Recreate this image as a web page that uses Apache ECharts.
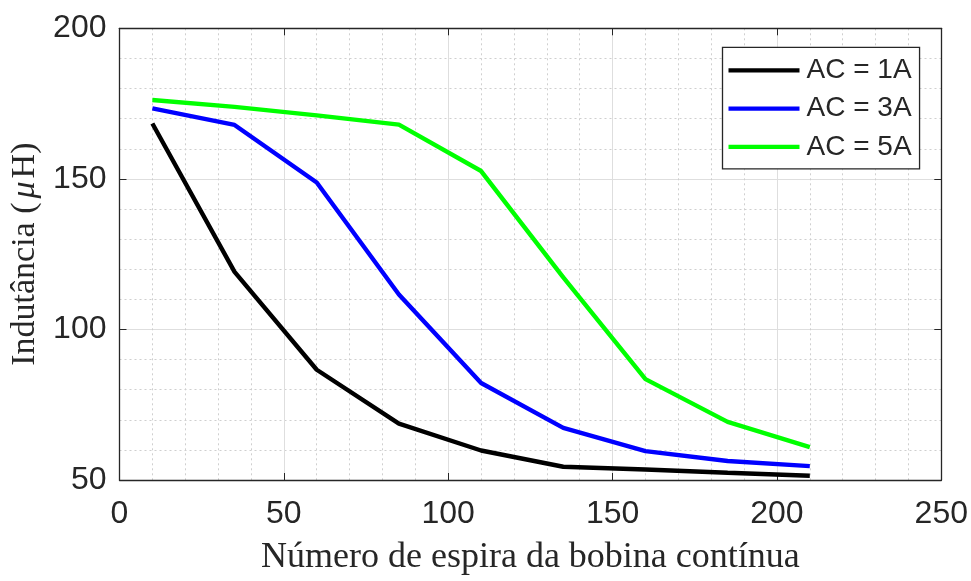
<!DOCTYPE html>
<html>
<head>
<meta charset="utf-8">
<script src="https://cdn.jsdelivr.net/npm/echarts@6/dist/echarts.min.js"></script>
<style>
  html, body { margin: 0; padding: 0; background: #ffffff; }
  #chart { width: 971px; height: 581px; }
</style>
</head>
<body>
<div id="chart"></div>
<script>
// Number of turns of the continuous coil
const turns = [10, 35, 60, 85, 110, 135, 160, 185, 210];

// Inductance (µH) for each AC current level
const ac1 = [168.4, 119.1, 86.6, 68.7, 59.8, 54.4, 53.5, 52.4, 51.4];
const ac3 = [173.4, 167.9, 148.8, 111.6, 82.2, 67.3, 59.6, 56.3, 54.6];
const ac5 = [176.2, 173.9, 171.1, 168.0, 152.6, 117.3, 83.5, 69.3, 60.9];

const seriesNames = ['AC = 1A', 'AC = 3A', 'AC = 5A'];
const seriesColors = ['#000000', '#0000ff', '#00ff00'];

const xTicks = [0, 50, 100, 150, 200, 250];
const yTicks = [50, 100, 150, 200];

const axisColor = '#262626';
const tickFont = { fontFamily: 'Liberation Sans', fontSize: 32, color: axisColor };

function pairs(xs, ys) { return xs.map((x, i) => [x, ys[i]]); }

const gridLine = { show: true, lineStyle: { color: '#dedede', width: 1, type: 'solid' } };
const minorGrid = { show: true, lineStyle: { color: '#cfcfcf', width: 1, type: [2, 3] } };

const chart = echarts.init(document.getElementById('chart'), null, { renderer: 'canvas' });

chart.setOption({
  backgroundColor: '#ffffff',
  animation: false,
  grid: { left: 119.5, right: 29.5, top: 28.3, bottom: 98.7, containLabel: false },
  xAxis: [
    {
      type: 'value', min: xTicks[0], max: xTicks[xTicks.length - 1], interval: 50,
      position: 'bottom',
      axisLine: { show: true, onZero: false, lineStyle: { color: axisColor, width: 1.3 } },
      axisTick: { show: true, inside: true, length: 7, lineStyle: { color: axisColor } },
      axisLabel: Object.assign({ margin: 18 }, tickFont),
      splitLine: gridLine,
      minorTick: { show: false, splitNumber: 5 },
      minorSplitLine: minorGrid,
      name: 'Número de espira da bobina contínua',
      nameLocation: 'middle',
      nameGap: 60,
      nameTextStyle: { fontFamily: 'Liberation Serif', fontSize: 36, color: axisColor }
    },
    {
      type: 'value', min: xTicks[0], max: xTicks[xTicks.length - 1], interval: 50,
      position: 'top',
      axisLine: { show: true, onZero: false, lineStyle: { color: axisColor, width: 1.3 } },
      axisTick: { show: true, inside: true, length: 7, lineStyle: { color: axisColor } },
      axisLabel: { show: false },
      splitLine: { show: false }
    }
  ],
  yAxis: [
    {
      type: 'value', min: yTicks[0], max: yTicks[yTicks.length - 1], interval: 50,
      position: 'left',
      axisLine: { show: true, onZero: false, lineStyle: { color: axisColor, width: 1.3 } },
      axisTick: { show: true, inside: true, length: 7, lineStyle: { color: axisColor } },
      axisLabel: Object.assign({ margin: 13 }, tickFont),
      splitLine: gridLine,
      minorTick: { show: false, splitNumber: 5 },
      minorSplitLine: minorGrid,
      name: 'Indutância ({i|μ}H)',
      nameLocation: 'middle',
      nameGap: 77,
      nameRotate: 90,
      nameTextStyle: {
        fontFamily: 'Liberation Serif', fontSize: 34, color: axisColor,
        rich: { i: { fontFamily: 'Liberation Serif', fontSize: 34, fontStyle: 'italic', color: axisColor, padding: [0, 3, 0, 4] } }
      }
    },
    {
      type: 'value', min: yTicks[0], max: yTicks[yTicks.length - 1], interval: 50,
      position: 'right',
      axisLine: { show: true, onZero: false, lineStyle: { color: axisColor, width: 1.3 } },
      axisTick: { show: true, inside: true, length: 7, lineStyle: { color: axisColor } },
      axisLabel: { show: false },
      splitLine: { show: false }
    }
  ],
  legend: {
    orient: 'vertical',
    left: 722.5,
    top: 47.3,
    icon: 'rect',
    itemWidth: 71,
    itemHeight: 4.2,
    itemGap: 10.3,
    padding: [9, 8, 8, 6],
    backgroundColor: '#ffffff',
    borderColor: axisColor,
    borderWidth: 1.3,
    data: seriesNames,
    textStyle: { fontFamily: 'Liberation Sans', fontSize: 28, lineHeight: 28, color: axisColor, padding: [0, 0, 0, 2] }
  },
  series: [ac1, ac3, ac5].map((vals, i) => ({
    name: seriesNames[i],
    type: 'line',
    data: pairs(turns, vals),
    symbol: 'none',
    showSymbol: false,
    lineStyle: { color: seriesColors[i], width: 4.4 },
    itemStyle: { color: seriesColors[i] },
    z: 3 + i
  }))
});
</script>
</body>
</html>
